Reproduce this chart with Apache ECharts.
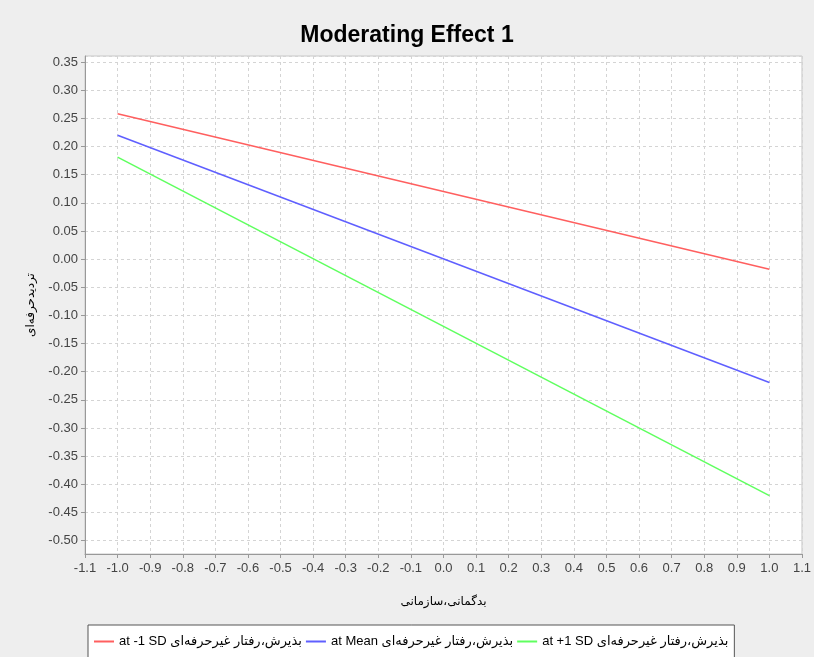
<!DOCTYPE html>
<html><head><meta charset="utf-8">
<script src="https://cdn.jsdelivr.net/npm/echarts@6/dist/echarts.min.js"></script>
<style>html,body{margin:0;padding:0;background:#eeeeee}#c{width:814px;height:657px}</style>
</head><body><div id="c"></div>
<script>
const titleText = 'Moderating Effect 1';
const xAxisName = 'بدگمانی،سازمانی';
const yAxisName = 'تردیدحرفه‌ای';
const xValues = [-1.0, 1.0];
const lowSDValues = [0.258, -0.018];
const meanValues = [0.220, -0.219];
const highSDValues = [0.181, -0.420];
const seriesNames = [
  'at -1 SD بذیرش،رفتار غیرحرفه‌ای',
  'at Mean بذیرش،رفتار غیرحرفه‌ای',
  'at +1 SD بذیرش،رفتار غیرحرفه‌ای'
];
const seriesColors = ['#ff5f5f', '#5f5fff', '#5fff5f'];
const seriesValues = [lowSDValues, meanValues, highSDValues];

const chart = echarts.init(document.getElementById('c'), null, {renderer: 'canvas'});
const font = 'Liberation Sans, Arial, DejaVu Sans, sans-serif';
chart.setOption({
  backgroundColor: '#eeeeee',
  animation: false,
  textStyle: {fontFamily: font},
  title: {
    text: titleText, left: 'center', top: 19,
    textStyle: {fontSize: 23, fontWeight: 'bold', color: '#000', fontFamily: font}
  },
  grid: {
    left: 85, right: 6, top: 56, bottom: 103,
    show: true, backgroundColor: '#ffffff', borderColor: '#c8c8c8', borderWidth: 1
  },
  legend: {
    left: 88, top: 625,
    padding: [10, 6, 10, 6],
    backgroundColor: '#ffffff', borderColor: '#555', borderWidth: 1, borderRadius: 0,
    itemWidth: 20, itemHeight: 2, itemGap: 4, icon: 'rect',
    textStyle: {fontSize: 13, color: '#000', fontFamily: 'Liberation Sans, DejaVu Sans, sans-serif', padding: [0,0,0,0]},
    data: seriesNames
  },
  xAxis: {
    type: 'value', min: -1.1, max: 1.1, interval: 0.1,
    name: xAxisName, nameLocation: 'middle', nameGap: 42,
    nameTextStyle: {fontSize: 12, color: '#000', fontFamily: 'DejaVu Sans, sans-serif'},
    axisLine: {show: true, onZero: false, lineStyle: {color: '#999', width: 1}},
    axisTick: {show: true, length: 4, lineStyle: {color: '#999'}},
    axisLabel: {fontSize: 13, color: '#444', margin: 8, formatter: v => v.toFixed(1)},
    splitLine: {show: true, lineStyle: {color: '#d4d4d4', type: [3, 3], width: 1}}
  },
  yAxis: {
    type: 'value', min: -0.5236, max: 0.3606, splitNumber: 17,
    name: yAxisName, nameLocation: 'middle', nameGap: 48, nameRotate: 90,
    nameTextStyle: {fontSize: 12, color: '#000', fontFamily: 'DejaVu Sans, sans-serif'},
    axisLine: {show: true, onZero: false, lineStyle: {color: '#999', width: 1}},
    axisTick: {show: true, length: 4, lineStyle: {color: '#999'}},
    axisLabel: {fontSize: 13, color: '#444', margin: 7, showMinLabel: false, showMaxLabel: false,
      formatter: v => v.toFixed(2)},
    splitLine: {show: true, lineStyle: {color: '#d4d4d4', type: [3, 3], width: 1}}
  },
  series: seriesNames.map((n, i) => ({
    name: n, type: 'line', showSymbol: false, symbol: 'none',
    lineStyle: {color: seriesColors[i], width: 1.5},
    itemStyle: {color: seriesColors[i]},
    data: xValues.map((x, j) => [x, seriesValues[i][j]])
  }))
});
</script></body></html>
